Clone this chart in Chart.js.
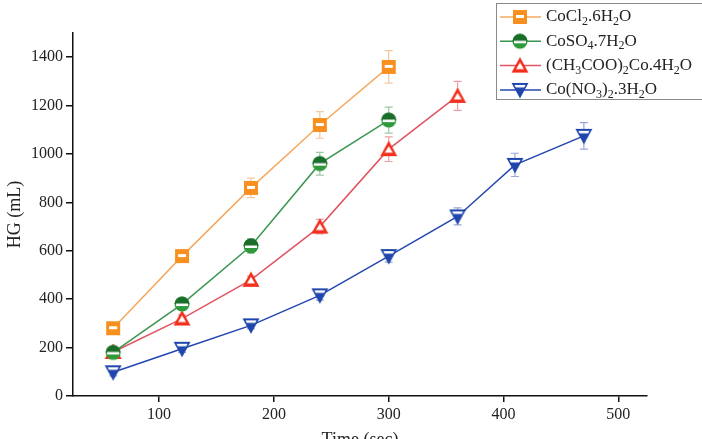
<!DOCTYPE html>
<html>
<head>
<meta charset="utf-8">
<script src="https://cdn.jsdelivr.net/npm/chart.js@4.4.0/dist/chart.umd.min.js"></script>
<style>
html, body { margin: 0; padding: 0; overflow: hidden; background: #fff; }
</style>
</head>
<body>
<canvas id="grafico" width="702" height="455"></canvas>
<script>
// Datos
const tiemposCl = [60, 120, 180, 240, 300];
const valoresCl = [280, 578, 860, 1120, 1360];
const errorCl = [15, 25, 40, 55, 67];

const tiemposSO4 = [60, 120, 180, 240, 300];
const valoresSO4 = [180, 380, 620, 960, 1140];
const errorSO4 = [10, 15, 30, 47, 54];

const tiemposAc = [60, 120, 180, 240, 300, 360];
const valoresAc = [182, 320, 480, 700, 1020, 1240];
const errorAc = [10, 15, 15, 30, 51, 60];

const tiemposNO3 = [60, 120, 180, 240, 300, 360, 410, 470];
const valoresNO3 = [98, 195, 292, 416, 578, 742, 955, 1075];
const errorNO3 = [15, 15, 15, 20, 25, 35, 48, 55];

const etiquetas = ['CoCl₂.6H₂O', 'CoSO₄.7H₂O', '(CH₃COO)₂Co.4H₂O', 'Co(NO₃)₂.3H₂O'];
const ticksX = [100, 200, 300, 400, 500];
const ticksY = [0, 200, 400, 600, 800, 1000, 1200, 1400];

const fuente = '"Liberation Serif", "DejaVu Serif", serif';

//Marcadores dibujados a mano en un canvas chico
function marcador(tipo, color, oscuro) {
    const c = document.createElement('canvas');
    c.width = 18; c.height = 18;
    const g = c.getContext('2d');
    g.fillStyle = color;
    if (tipo === 'cuadrado') {
        g.fillRect(2, 2, 14, 14);
        g.fillStyle = '#fff';
        g.fillRect(5, 7, 8, 3);
    } else if (tipo === 'circulo') {
        g.beginPath(); g.arc(9, 9, 7.5, 0, Math.PI * 2); g.fill();
        g.fillStyle = oscuro;
        g.beginPath(); g.arc(9, 9, 7.5, Math.PI, Math.PI * 2); g.fill();
        g.fillStyle = '#fff';
        g.fillRect(3, 8.5, 12, 2.5);
    } else if (tipo === 'triangulo') {
        g.beginPath(); g.moveTo(9, 0.5); g.lineTo(17.5, 16); g.lineTo(0.5, 16); g.closePath(); g.fill();
        g.fillStyle = '#fff';
        g.beginPath(); g.moveTo(9, 6); g.lineTo(13, 12.5); g.lineTo(5, 12.5); g.closePath(); g.fill();
    } else {
        g.beginPath(); g.moveTo(0.5, 2); g.lineTo(17.5, 2); g.lineTo(9, 17.5); g.closePath(); g.fill();
        g.fillStyle = '#fff';
        g.beginPath(); g.moveTo(3.5, 4); g.lineTo(14.5, 4); g.lineTo(13.2, 6.5); g.lineTo(4.8, 6.5); g.closePath(); g.fill();
    }
    return c;
}

function serie(xs, ys) {
    return xs.map((x, i) => ({ x: x, y: ys[i] }));
}

const series = [
    { label: etiquetas[0], data: serie(tiemposCl, valoresCl), errores: errorCl, borderColor: '#F5A860', errColor: '#F2C8A0', pointStyle: marcador('cuadrado', '#F7901E') },
    { label: etiquetas[1], data: serie(tiemposSO4, valoresSO4), errores: errorSO4, borderColor: '#3A9650', errColor: '#9CC8A4', pointStyle: marcador('circulo', '#2E9A3C', '#1B6E2A') },
    { label: etiquetas[2], data: serie(tiemposAc, valoresAc), errores: errorAc, borderColor: '#E05560', errColor: '#EBA0A8', pointStyle: marcador('triangulo', '#F2301E') },
    { label: etiquetas[3], data: serie(tiemposNO3, valoresNO3), errores: errorNO3, borderColor: '#2446B0', errColor: '#9AA8D6', pointStyle: marcador('trianguloAbajo', '#1F46AC') }
];

series.forEach(s => {
    s.borderWidth = 1.5;
    s.pointRadius = 8;
    s.pointHoverRadius = 8;
    s.fill = false;
    s.tension = 0;
});

//Barras de error con las escalas del grafico
const barrasError = {
    id: 'barrasError',
    beforeDatasetsDraw(chart) {
        const ctx = chart.ctx;
        const sx = chart.scales.x, sy = chart.scales.y;
        ctx.save();
        chart.data.datasets.forEach(ds => {
            ctx.strokeStyle = ds.errColor;
            ctx.lineWidth = 1.2;
            ds.data.forEach((p, i) => {
                const px = sx.getPixelForValue(p.x);
                const arriba = sy.getPixelForValue(p.y + ds.errores[i]);
                const abajo = sy.getPixelForValue(p.y - ds.errores[i]);
                ctx.beginPath();
                ctx.moveTo(px, arriba); ctx.lineTo(px, abajo);
                ctx.moveTo(px - 4, arriba); ctx.lineTo(px + 4, arriba);
                ctx.moveTo(px - 4, abajo); ctx.lineTo(px + 4, abajo);
                ctx.stroke();
            });
        });
        ctx.restore();
    }
};

//Texto con subindices
const subs = '₀₁₂₃₄₅₆₇₈₉';
function textoQuimico(ctx, texto, x, y) {
    let cx = x;
    for (const ch of texto) {
        const k = subs.indexOf(ch);
        if (k >= 0) {
            ctx.font = '12px ' + fuente;
            ctx.fillText(String(k), cx, y + 5);
            cx += ctx.measureText(String(k)).width;
        } else {
            ctx.font = '17px ' + fuente;
            ctx.fillText(ch, cx, y);
            cx += ctx.measureText(ch).width;
        }
    }
}

const leyenda = {
    id: 'leyenda',
    afterDraw(chart) {
        const ctx = chart.ctx;
        ctx.save();
        ctx.strokeStyle = '#8a8a8a';
        ctx.lineWidth = 1;
        ctx.strokeRect(496.5, 3.5, 206, 96);
        ctx.textBaseline = 'middle';
        ctx.fillStyle = '#222';
        chart.data.datasets.forEach((ds, i) => {
            const y = 17 + i * 24.3;
            ctx.strokeStyle = ds.borderColor;
            ctx.lineWidth = 1.5;
            ctx.beginPath(); ctx.moveTo(500, y); ctx.lineTo(541, y); ctx.stroke();
            const img = ds.pointStyle;
            ctx.drawImage(img, 520 - img.width / 2, y - img.height / 2);
            ctx.fillStyle = '#222';
            textoQuimico(ctx, ds.label, 546, y);
        });
        ctx.restore();
    }
};

const config = {
    type: 'line',
    data: { datasets: series },
    options: {
        responsive: false,
        animation: false,
        layout: { padding: { top: 33, right: 55, left: 0, bottom: 0 } },
        plugins: { legend: { display: false }, tooltip: { enabled: false } },
        scales: {
            x: {
                type: 'linear',
                min: 25,
                max: 525,
                afterBuildTicks: s => { s.ticks = ticksX.map(v => ({ value: v })); },
                afterFit: s => { s.height = 59; },
                ticks: { font: { family: fuente, size: 16 }, color: '#222', padding: 3, callback: v => String(v) },
                grid: { drawOnChartArea: false, tickLength: 6, color: '#111', lineWidth: 1.5 },
                border: { color: '#111', width: 1.5 },
                title: { display: true, text: 'Time (sec)', font: { family: fuente, size: 18 }, color: '#222' }
            },
            y: {
                min: 0,
                max: 1500,
                afterBuildTicks: s => { s.ticks = ticksY.map(v => ({ value: v })); },
                afterFit: s => { s.width = 73; },
                ticks: { font: { family: fuente, size: 16 }, color: '#222', padding: 3, callback: v => String(v) },
                grid: { drawOnChartArea: false, tickLength: 7, color: '#111', lineWidth: 1.5 },
                border: { color: '#111', width: 1.5 },
                title: { display: true, text: 'HG (mL)', font: { family: fuente, size: 18 }, color: '#222' }
            }
        }
    },
    plugins: [barrasError, leyenda]
};

const miGrafico = new Chart(document.getElementById('grafico'), config);
</script>
</body>
</html>
